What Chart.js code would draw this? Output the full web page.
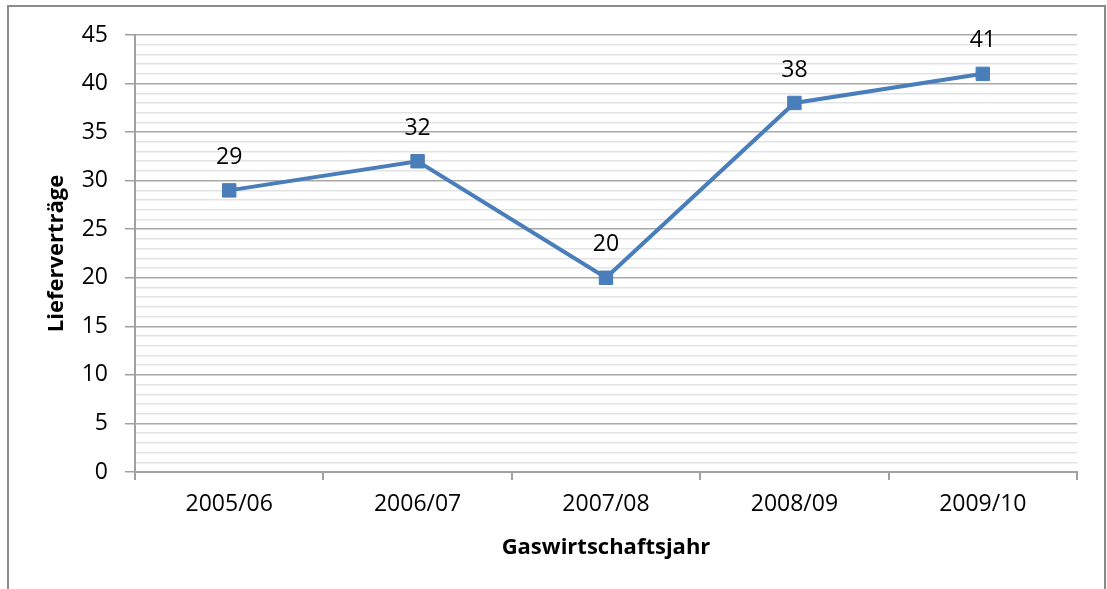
<!DOCTYPE html>
<html>
<head>
<meta charset="utf-8">
<script src="https://cdn.jsdelivr.net/npm/chart.js@4.4.1/dist/chart.umd.min.js"></script>
<style>
  html, body { margin: 0; padding: 0; background: #fff; }
  #wrap { width: 1107px; height: 589px; }
</style>
</head>
<body>
<div id="wrap"><canvas id="chart" width="1107" height="589"></canvas></div>
<script>
// values
const years = ['2005/06', '2006/07', '2007/08', '2008/09', '2009/10'];
const contracts = [29, 32, 20, 38, 41];
const yMax = 45;
const yMajorStep = 5;

const fontName = '"Open Sans", "DejaVu Sans", sans-serif';
const lineBlue = '#4a7ebb';
const axisGray = '#a0a0a0';

// outer frame of the picture
const framePlugin = {
    id: 'frame',
    beforeDraw(chart) {
        const ctx = chart.ctx;
        ctx.save();
        ctx.fillStyle = '#fff';
        ctx.fillRect(0, 0, chart.width, chart.height);
        ctx.strokeStyle = '#8a8a8a';
        ctx.lineWidth = 2;
        ctx.strokeRect(8, 6, 1097, 620);
        ctx.restore();
    }
};

// numbers above each point
const valueLabels = {
    id: 'valueLabels',
    afterDatasetsDraw(chart) {
        const ctx = chart.ctx;
        const meta = chart.getDatasetMeta(0);
        ctx.save();
        ctx.font = '23px ' + fontName;
        ctx.fillStyle = '#000';
        ctx.textAlign = 'center';
        ctx.textBaseline = 'middle';
        meta.data.forEach((pt, i) => {
            ctx.fillText(String(contracts[i]), pt.x, pt.y - 33);
        });
        ctx.restore();
    }
};

new Chart(document.getElementById('chart'), {
    type: 'line',
    data: {
        labels: years,
        datasets: [{
            data: contracts,
            borderColor: lineBlue,
            backgroundColor: lineBlue,
            borderWidth: 4,
            pointStyle: 'rect',
            pointRadius: 9.5,
            pointBorderWidth: 1,
            pointBackgroundColor: lineBlue,
            pointBorderColor: lineBlue,
            tension: 0,
            fill: false
        }]
    },
    options: {
        responsive: false,
        animation: false,
        layout: { padding: { top: 35, right: 30, left: 0, bottom: 0 } },
        plugins: {
            legend: { display: false },
            tooltip: { enabled: false }
        },
        scales: {
            x: {
                offset: true,
                afterFit: (s) => { s.height = 117; },
                grid: {
                    offset: true,
                    drawOnChartArea: false,
                    tickLength: 8,
                    color: axisGray,
                    tickColor: axisGray,
                    lineWidth: 2
                },
                border: { color: axisGray, width: 2 },
                ticks: {
                    padding: 11,
                    maxRotation: 0,
                    color: '#000',
                    font: { family: fontName, size: 23 }
                },
                title: {
                    display: true,
                    text: 'Gaswirtschaftsjahr',
                    color: '#000',
                    font: { family: fontName, size: 22, weight: 'bold' },
                    padding: { top: 0, bottom: 28 }
                }
            },
            y: {
                min: 0,
                max: yMax,
                afterFit: (s) => { s.width = 135; },
                grid: {
                    color: (c) => c.tick && c.tick.value % yMajorStep === 0 ? '#a8a8a8' : '#e3e3e3',
                    tickColor: (c) => c.tick && c.tick.value % yMajorStep === 0 ? axisGray : 'rgba(0,0,0,0)',
                    lineWidth: 1.5,
                    tickLength: 10
                },
                border: { color: axisGray, width: 2 },
                ticks: {
                    stepSize: 1,
                    autoSkip: false,
                    padding: 17,
                    color: '#000',
                    font: { family: fontName, size: 23 },
                    callback: (v) => v % yMajorStep === 0 ? v : ''
                },
                title: {
                    display: true,
                    text: 'Lieferverträge',
                    color: '#000',
                    font: { family: fontName, size: 22, weight: 'bold' },
                    padding: { top: 44, bottom: 0 }
                }
            }
        }
    },
    plugins: [framePlugin, valueLabels]
});
</script>
</body>
</html>
